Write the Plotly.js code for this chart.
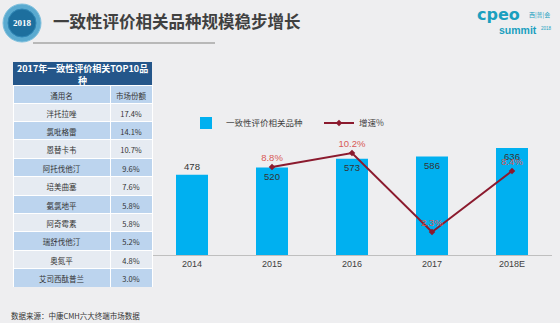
<!DOCTYPE html>
<html><head><meta charset="utf-8">
<script src="https://cdn.plot.ly/plotly-3.0.1.min.js"></script>
<style>html,body{margin:0;padding:0;background:#eeeef0;}</style>
</head><body><div id="chart" style="width:560px;height:323px;"></div>
<script>
// ---- data ----
const years = ['2014', '2015', '2016', '2017', '2018E'];
const varieties = [478, 520, 573, 586, 636];
const growthPct = [null, 8.8, 10.2, 2.3, 8.4];
const drugNames = ['泮托拉唑', '氯吡格雷', '恩替卡韦', '阿托伐他汀', '培美曲塞', '氨氯地平', '阿奇霉素', '瑞舒伐他汀', '奥氮平', '艾司西酞普兰'];
const marketShare = ['17.4%', '14.1%', '10.7%', '9.6%', '7.6%', '5.8%', '5.8%', '5.2%', '4.8%', '3.0%'];
const tableHeader = ['通用名', '市场份额'];
const tableTitle = '2017年一致性评价相关TOP10品<br>种';
const seriesNames = ['一致性评价相关品种', '增速%'];
const pageTitle = '一致性评价相关品种规模稳步增长';
const sourceNote = '数据来源：中康CMH六大终端市场数据';

// ---- helpers (figure px -> paper) ----
const W = 560, H = 323;
const px = x => x / W;
const py = y => 1 - y / H;

const FONT = 'Liberation Sans, Arial, Noto Sans CJK SC, sans-serif';
const CJK = 'Noto Sans CJK SC, sans-serif';

const rowFill = drugNames.map((_, i) => i % 2 === 0 ? '#e6ebf2' : '#bcd4ee');

const traces = [
  {
    type: 'bar', x: years, y: varieties, name: seriesNames[0],
    marker: {color: '#00b0f0'}, width: 0.4,
    text: varieties.map(String),
    textposition: ['outside', 'inside', 'inside', 'inside', 'inside'],
    insidetextanchor: 'end', textangle: 0, constraintext: 'none',
    textfont: {size: 9.5, color: '#333333', family: FONT},
    outsidetextfont: {size: 9.5, color: '#333333', family: FONT},
    insidetextfont: {size: 9.5, color: '#333333', family: FONT},
    cliponaxis: false, hoverinfo: 'skip'
  },
  {
    type: 'scatter', mode: 'lines+markers+text', x: years, y: growthPct, yaxis: 'y2',
    name: seriesNames[1],
    line: {color: '#8b1a2e', width: 2},
    marker: {symbol: 'diamond', size: 5, color: '#8b1a2e'},
    texttemplate: '%{y:.1f}%', textposition: 'top center',
    textfont: {size: 9.5, color: '#d85a55', family: FONT},
    cliponaxis: false, hoverinfo: 'skip'
  },
  {
    type: 'table',
    domain: {x: [px(13), px(152)], y: [py(287), py(85)]},
    columnwidth: [97, 42],
    header: {
      values: tableHeader,
      fill: {color: '#bcd4ee'}, line: {color: '#ffffff', width: 1},
      font: {size: 7.5, color: '#333333', family: CJK}, height: 18, align: 'center'
    },
    cells: {
      values: [drugNames, marketShare],
      fill: {color: [rowFill, rowFill]}, line: {color: '#ffffff', width: 1},
      font: {size: 7.5, color: '#333333', family: CJK}, height: 18.4, align: 'center'
    }
  }
];

const layout = {
  width: W, height: H,
  margin: {l: 0, r: 0, t: 0, b: 0},
  paper_bgcolor: '#eeeef0', plot_bgcolor: 'rgba(0,0,0,0)',
  showlegend: true,
  font: {family: FONT, color: '#404040'},
  xaxis: {
    type: 'category',
    domain: [px(152), px(552)], anchor: 'y',
    showline: true, linecolor: '#bfbfbf', linewidth: 1,
    ticks: '', showgrid: false, zeroline: false,
    tickfont: {size: 9, color: '#404040', family: FONT}
  },
  yaxis: {domain: [py(255), py(115)], range: [0, 833], visible: false, showgrid: false, zeroline: false},
  yaxis2: {overlaying: 'y', range: [0, 14], visible: false, showgrid: false, zeroline: false},
  legend: {
    orientation: 'h', x: px(186), y: py(123), xanchor: 'left', yanchor: 'middle',
    bgcolor: 'rgba(0,0,0,0)', font: {size: 8.5, color: '#404040', family: CJK},
    itemwidth: 30, entrywidth: 88
  },
  shapes: [
    {type: 'circle', layer: 'below', xref: 'paper', yref: 'paper', x0: px(3), x1: px(41), y0: py(42), y1: py(4),
     fillcolor: '#5aaad0', line: {color: '#7fc0dd', width: 1}},
    {type: 'circle', layer: 'below', xref: 'paper', yref: 'paper', x0: px(8), x1: px(36), y0: py(37), y1: py(9),
     fillcolor: '#1d6f9e', line: {color: '#2f86b5', width: 1}},
    {type: 'line', layer: 'below', xref: 'paper', yref: 'paper', x0: px(33), x1: px(215), y0: py(43), y1: py(43),
     line: {color: '#a6a6a6', width: 1.5}},
    {type: 'rect', layer: 'below', xref: 'paper', yref: 'paper', x0: px(13), x1: px(152), y0: py(85), y1: py(62),
     fillcolor: '#24568a', line: {width: 0}}
  ],
  annotations: [
    {text: '<b>2018</b>', xref: 'paper', yref: 'paper', x: px(22), y: py(23), xanchor: 'center', yanchor: 'middle',
     showarrow: false, font: {size: 9, color: '#ffffff', family: 'Liberation Serif, serif'}},
    {text: '<b>' + pageTitle + '</b>', xref: 'paper', yref: 'paper', x: px(51), y: py(21),
     xanchor: 'left', yanchor: 'middle', showarrow: false,
     font: {size: 16.5, color: '#404040', family: CJK}},
    {text: '<b>cpeo</b>', xref: 'paper', yref: 'paper', x: px(475), y: py(15), xanchor: 'left', yanchor: 'middle',
     showarrow: false, font: {size: 16, color: '#1a9fbf', family: 'DejaVu Sans, sans-serif'}},
    {text: '西|普|会', xref: 'paper', yref: 'paper', x: px(527), y: py(14), xanchor: 'left', yanchor: 'middle',
     showarrow: false, font: {size: 6, color: '#1a9fbf', family: CJK}},
    {text: '<b>summit</b>', xref: 'paper', yref: 'paper', x: px(497), y: py(30), xanchor: 'left', yanchor: 'middle',
     showarrow: false, font: {size: 10.5, color: '#1a9fbf', family: FONT}},
    {text: '2018', xref: 'paper', yref: 'paper', x: px(539), y: py(28), xanchor: 'left', yanchor: 'middle',
     showarrow: false, font: {size: 4.5, color: '#1a9fbf', family: FONT}},
    {text: '<b>' + tableTitle + '</b>', xref: 'paper', yref: 'paper', x: px(82.5), y: py(74),
     xanchor: 'center', yanchor: 'middle', align: 'center', showarrow: false,
     font: {size: 9, color: '#ffffff', family: CJK}},
    {text: sourceNote, xref: 'paper', yref: 'paper', x: px(9), y: py(315), xanchor: 'left', yanchor: 'middle',
     showarrow: false, font: {size: 7.5, color: '#333333', family: CJK}}
  ]
};

Plotly.newPlot('chart', traces, layout, {displayModeBar: false, staticPlot: true});
</script>
</body></html>
